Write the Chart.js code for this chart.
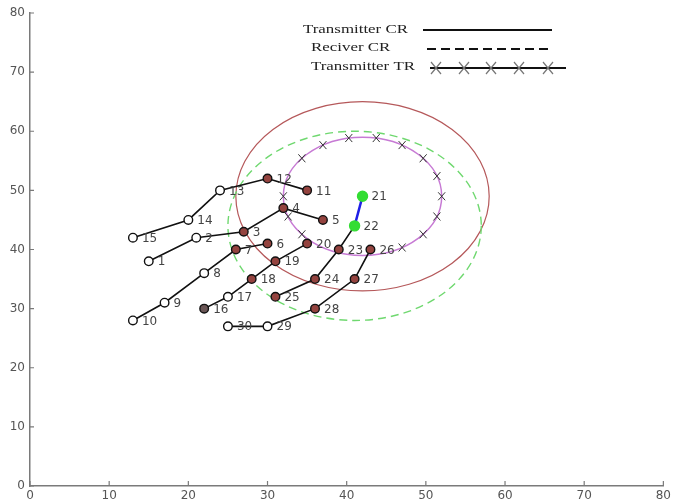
<!DOCTYPE html>
<html>
<head>
<meta charset="utf-8">
<script src="https://cdn.jsdelivr.net/npm/chart.js@4.4.1/dist/chart.umd.min.js"></script>
<style>
  html, body { margin: 0; padding: 0; background: #fff; }
  #wrap { width: 674px; height: 504px; }
</style>
</head>
<body>
<div id="wrap"><canvas id="chart" width="674" height="504"></canvas></div>
<script>
// node positions (id = index + 1)
const nodeIds = [1, 2, 3, 4, 5, 6, 7, 8, 9, 10, 11, 12, 13, 14, 15, 16, 17, 18, 19, 20, 21, 22, 23, 24, 25, 26, 27, 28, 29, 30];
const nodeX = [15, 21, 27, 32, 37, 30, 26, 22, 17, 13, 35, 30, 24, 20, 13, 22, 25, 28, 31, 35, 42, 41, 39, 36, 31, 43, 41, 36, 30, 25];
const nodeY = [38, 42, 43, 47, 45, 41, 40, 36, 31, 28, 50, 52, 50, 45, 42, 30, 32, 35, 38, 41, 49, 44, 40, 35, 32, 40, 35, 30, 27, 27];
const nodeKind = ['open', 'open', 'fill', 'fill', 'fill', 'fill', 'fill', 'open', 'open', 'open',
                  'fill', 'fill', 'open', 'open', 'open', 'dark', 'open', 'fill', 'fill', 'fill',
                  'green', 'green', 'fill', 'fill', 'fill', 'fill', 'fill', 'fill', 'open', 'open'];

// paths between nodes
const chains = [
  [15, 14, 13, 12, 11],
  [1, 2, 3, 4, 5],
  [10, 9, 8, 7, 6],
  [16, 17, 18, 19, 20],
  [25, 24, 23, 22],
  [30, 29, 28, 27, 26]
];
const blueLink = [22, 21];

// ranges
const rangeNames = ['Transmitter CR', 'Reciver CR', 'Transmitter TR'];
const rangeCx = [42, 41, 42];
const rangeCy = [49, 44, 49];
const rangeR = [16, 16, 10];
// x marks visible on the TR circle (degrees)
const trMarkAngles = [0, 20, 40, 60, 80, 100, 120, 140, 180, 200, 220, 300, 320, 340];

const xTicks = [0, 10, 20, 30, 40, 50, 60, 70, 80];
const yTicks = [0, 10, 20, 30, 40, 50, 60, 70, 80];

const pt = id => ({ x: nodeX[id - 1], y: nodeY[id - 1] });

const kindFill = { open: '#ffffff', fill: '#94433f', dark: '#6a5656', green: '#33dd33' };
const kindBorder = { open: '#111111', fill: '#111111', dark: '#111111', green: '#33dd33' };

const datasets = [];
datasets.push({
  label: 'nodes',
  data: nodeIds.map(pt),
  showLine: false,
  pointRadius: nodeKind.map(k => k === 'green' ? 5 : 4.3),
  pointBorderWidth: 1.4,
  pointBackgroundColor: nodeKind.map(k => kindFill[k]),
  pointBorderColor: nodeKind.map(k => kindBorder[k]),
  order: 0
});
datasets.push({
  label: 'link',
  data: blueLink.map(pt),
  showLine: true,
  borderColor: '#1f1fe6',
  borderWidth: 2.5,
  pointRadius: 0,
  order: 1
});
chains.forEach((c, i) => {
  datasets.push({
    label: 'path' + i,
    data: c.map(pt),
    showLine: true,
    borderColor: '#111111',
    borderWidth: 1.6,
    pointRadius: 0,
    order: 2
  });
});

// range circles, drawn in data units through the scales
const rangePlugin = {
  id: 'ranges',
  beforeDatasetsDraw(chart) {
    const ctx = chart.ctx;
    const xs = chart.scales.x, ys = chart.scales.y;
    const styles = [
      { color: '#b5585a', width: 1.2, dash: [] },
      { color: '#6fd86f', width: 1.4, dash: [8, 5] },
      { color: '#c77ad4', width: 1.5, dash: [] }
    ];
    ctx.save();
    rangeCx.forEach((cx, i) => {
      const px = xs.getPixelForValue(cx);
      const py = ys.getPixelForValue(rangeCy[i]);
      const rx = xs.getPixelForValue(cx + rangeR[i]) - px;
      const ry = py - ys.getPixelForValue(rangeCy[i] + rangeR[i]);
      ctx.beginPath();
      ctx.strokeStyle = styles[i].color;
      ctx.lineWidth = styles[i].width;
      ctx.setLineDash(styles[i].dash);
      ctx.ellipse(px, py, rx, ry, 0, 0, Math.PI * 2);
      ctx.stroke();
      if (i === 2) {
        ctx.setLineDash([]);
        ctx.strokeStyle = '#333';
        ctx.lineWidth = 1;
        trMarkAngles.forEach(a => {
          const t = a * Math.PI / 180;
          const mx = px + rx * Math.cos(t);
          const my = py - ry * Math.sin(t);
          ctx.beginPath();
          ctx.moveTo(mx - 3.5, my - 4); ctx.lineTo(mx + 3.5, my + 4);
          ctx.moveTo(mx - 3.5, my + 4); ctx.lineTo(mx + 3.5, my - 4);
          ctx.stroke();
        });
      }
    });
    ctx.restore();
  }
};

// number next to each node
const labelPlugin = {
  id: 'nodeLabels',
  afterDatasetsDraw(chart) {
    const ctx = chart.ctx;
    const meta = chart.getDatasetMeta(0);
    ctx.save();
    ctx.font = '12px "DejaVu Sans"';
    ctx.fillStyle = '#444';
    ctx.textAlign = 'left';
    ctx.textBaseline = 'middle';
    meta.data.forEach((p, i) => {
      ctx.fillText(String(nodeIds[i]), p.x + 9, p.y + 1);
    });
    ctx.restore();
  }
};

// matlab style inward ticks
const tickPlugin = {
  id: 'inTicks',
  afterDraw(chart) {
    const ctx = chart.ctx;
    const xs = chart.scales.x, ys = chart.scales.y;
    const a = chart.chartArea;
    ctx.save();
    ctx.strokeStyle = '#7a7a7a';
    ctx.lineWidth = 1.2;
    ctx.beginPath();
    xTicks.forEach(v => {
      const px = xs.getPixelForValue(v);
      ctx.moveTo(px, a.bottom); ctx.lineTo(px, a.bottom - 5);
    });
    yTicks.forEach(v => {
      const py = ys.getPixelForValue(v);
      ctx.moveTo(a.left, py); ctx.lineTo(a.left + 4, py);
    });
    ctx.stroke();
    ctx.restore();
  }
};

// legend: text on the left, line sample on the right
const legendPlugin = {
  id: 'rangeLegend',
  afterDraw(chart) {
    const ctx = chart.ctx;
    const rows = [
      { tx: 303, ty: 30, x1: 423, x2: 552, ly: 30, dash: [] },
      { tx: 311, ty: 48, x1: 427, x2: 549, ly: 49, dash: [9, 5] },
      { tx: 311, ty: 67, x1: 430, x2: 566, ly: 68, dash: [] }
    ];
    ctx.save();
    ctx.font = '13px "Liberation Serif"';
    ctx.fillStyle = '#222';
    ctx.textBaseline = 'middle';
    rows.forEach((r, i) => {
      ctx.save();
      ctx.translate(r.tx, r.ty);
      ctx.scale(1.3, 1);
      ctx.fillText(rangeNames[i], 0, 0);
      ctx.restore();
      ctx.beginPath();
      ctx.strokeStyle = '#111';
      ctx.lineWidth = 2;
      ctx.setLineDash(r.dash);
      ctx.moveTo(r.x1, r.ly); ctx.lineTo(r.x2, r.ly);
      ctx.stroke();
    });
    ctx.setLineDash([]);
    ctx.strokeStyle = '#777';
    ctx.lineWidth = 1.2;
    [436, 464, 491, 519, 548].forEach(mx => {
      const my = 68;
      ctx.beginPath();
      ctx.moveTo(mx - 5, my - 6); ctx.lineTo(mx + 5, my + 6);
      ctx.moveTo(mx - 5, my + 6); ctx.lineTo(mx + 5, my - 6);
      ctx.stroke();
    });
    ctx.restore();
  }
};

new Chart(document.getElementById('chart'), {
  type: 'scatter',
  data: { datasets: datasets },
  plugins: [rangePlugin, labelPlugin, tickPlugin, legendPlugin],
  options: {
    responsive: false,
    animation: false,
    events: [],
    layout: { padding: { top: 13, right: 8, left: 0, bottom: 0 } },
    plugins: {
      legend: { display: false },
      tooltip: { enabled: false }
    },
    scales: {
      x: {
        type: 'linear',
        min: 0,
        max: 80,
        afterBuildTicks: s => { s.ticks = xTicks.map(v => ({ value: v })); },
        afterFit: s => { s.height = 18; },
        grid: { display: false, drawTicks: false },
        border: { display: true, color: '#7a7a7a', width: 1.5 },
        ticks: { color: '#555', font: { family: 'DejaVu Sans', size: 12 }, padding: 3, maxRotation: 0, autoSkip: false }
      },
      y: {
        type: 'linear',
        min: 0,
        max: 80,
        afterBuildTicks: s => { s.ticks = yTicks.map(v => ({ value: v })); },
        afterFit: s => { s.width = 30; },
        grid: { display: false, drawTicks: false },
        border: { display: true, color: '#7a7a7a', width: 1.5 },
        ticks: { color: '#555', font: { family: 'DejaVu Sans', size: 12 }, padding: 5, autoSkip: false }
      }
    }
  }
});
</script>
</body>
</html>
